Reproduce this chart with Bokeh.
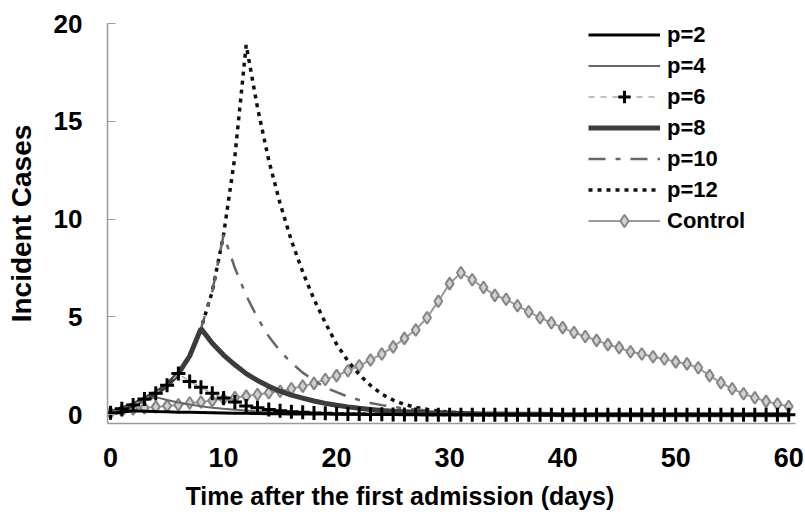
from bokeh.plotting import figure
from bokeh.models import Range1d, FixedTicker, Legend, LegendItem, Title
from bokeh.embed import file_html
from bokeh.resources import INLINE

# ---- data ----
days = list(range(61))
x_ticks = [0, 10, 20, 30, 40, 50, 60]
y_ticks = [0, 5, 10, 15, 20]
series_labels = ["p=2", "p=4", "p=6", "p=8", "p=10", "p=12", "Control"]

p2 = [0.05, 0.12, 0.2, 0.18, 0.16, 0.15, 0.13, 0.12, 0.11, 0.1,
      0.09, 0.08, 0.07, 0.06, 0.05, 0.05, 0.04, 0.04, 0.03, 0.03,
      0.02, 0.02, 0.02, 0.01, 0.01, 0.01, 0.0, 0.0, 0.0, 0.0,
      0.0, 0.0, 0.0, 0.0, 0.0, 0.0, 0.0, 0.0, 0.0, 0.0,
      0.0, 0.0, 0.0, 0.0, 0.0, 0.0, 0.0, 0.0, 0.0, 0.0,
      0.0, 0.0, 0.0, 0.0, 0.0, 0.0, 0.0, 0.0, 0.0, 0.0, 0.0]
p4 = [0.1, 0.3, 0.5, 0.7, 0.9, 0.75, 0.62, 0.52, 0.43, 0.36,
      0.3, 0.25, 0.21, 0.17, 0.14, 0.12, 0.1, 0.08, 0.07, 0.06,
      0.05, 0.04, 0.03, 0.03, 0.02, 0.02, 0.01, 0.01, 0.01, 0.0,
      0.0, 0.0, 0.0, 0.0, 0.0, 0.0, 0.0, 0.0, 0.0, 0.0,
      0.0, 0.0, 0.0, 0.0, 0.0, 0.0, 0.0, 0.0, 0.0, 0.0,
      0.0, 0.0, 0.0, 0.0, 0.0, 0.0, 0.0, 0.0, 0.0, 0.0, 0.0]
p6 = [0.1, 0.3, 0.5, 0.8, 1.1, 1.5, 2.1, 1.7, 1.4, 1.1,
      0.85, 0.65, 0.45, 0.35, 0.27, 0.2, 0.15, 0.12, 0.09, 0.07,
      0.05, 0.04, 0.03, 0.02, 0.02, 0.01, 0.01, 0.01, 0.0, 0.0,
      0.0, 0.0, 0.0, 0.0, 0.0, 0.0, 0.0, 0.0, 0.0, 0.0,
      0.0, 0.0, 0.0, 0.0, 0.0, 0.0, 0.0, 0.0, 0.0, 0.0,
      0.0, 0.0, 0.0, 0.0, 0.0, 0.0, 0.0, 0.0, 0.0, 0.0, 0.0]
p8 = [0.1, 0.3, 0.5, 0.8, 1.1, 1.5, 2.1, 3.0, 4.4, 3.65,
      3.05, 2.55, 2.1, 1.75, 1.45, 1.2, 1.0, 0.85, 0.7, 0.58,
      0.48, 0.4, 0.33, 0.27, 0.22, 0.18, 0.15, 0.12, 0.1, 0.08,
      0.07, 0.06, 0.05, 0.04, 0.03, 0.03, 0.02, 0.02, 0.02, 0.01,
      0.0, 0.0, 0.0, 0.0, 0.0, 0.0, 0.0, 0.0, 0.0, 0.0,
      0.0, 0.0, 0.0, 0.0, 0.0, 0.0, 0.0, 0.0, 0.0, 0.0, 0.0]
p10 = [0.1, 0.3, 0.5, 0.8, 1.1, 1.5, 2.1, 3.0, 4.4, 6.3,
       9.2, 7.5, 6.1, 4.95, 4.0, 3.25, 2.65, 2.15, 1.75, 1.4,
       1.15, 0.92, 0.75, 0.6, 0.49, 0.4, 0.32, 0.26, 0.21, 0.17,
       0.14, 0.11, 0.09, 0.07, 0.06, 0.05, 0.04, 0.03, 0.02, 0.02,
       0.01, 0.0, 0.0, 0.0, 0.0, 0.0, 0.0, 0.0, 0.0, 0.0,
       0.0, 0.0, 0.0, 0.0, 0.0, 0.0, 0.0, 0.0, 0.0, 0.0, 0.0]
p12 = [0.1, 0.3, 0.5, 0.8, 1.1, 1.5, 2.1, 3.0, 4.4, 6.3,
       9.2, 13.2, 18.9, 15.7, 13.0, 10.8, 8.9, 7.3, 5.9, 4.7,
       3.6, 2.75, 2.05, 1.5, 1.05, 0.75, 0.52, 0.38, 0.27, 0.19,
       0.13, 0.09, 0.06, 0.05, 0.04, 0.03, 0.02, 0.02, 0.01, 0.0,
       0.0, 0.0, 0.0, 0.0, 0.0, 0.0, 0.0, 0.0, 0.0, 0.0,
       0.0, 0.0, 0.0, 0.0, 0.0, 0.0, 0.0, 0.0, 0.0, 0.0, 0.0]
control = [0.1, 0.2, 0.3, 0.35, 0.4, 0.45, 0.5, 0.6, 0.65, 0.72,
           0.8, 0.88, 0.95, 1.03, 1.12, 1.2, 1.33, 1.46, 1.6, 1.8,
           2.0, 2.25, 2.5, 2.8, 3.1, 3.47, 3.9, 4.33, 4.96, 5.8,
           6.7, 7.26, 6.9, 6.5, 6.1, 5.9, 5.57, 5.26, 4.96, 4.7,
           4.45, 4.2, 4.0, 3.8, 3.58, 3.43, 3.22, 3.1, 2.96, 2.85,
           2.7, 2.6, 2.4, 2.0, 1.63, 1.33, 1.07, 0.87, 0.68, 0.55, 0.42]

FONT = "Liberation Sans"

p = figure(width=805, height=520, output_backend="svg", toolbar_location=None,
           x_range=Range1d(-0.27, 60.6), y_range=Range1d(-0.45, 20),
           min_border_left=107, min_border_right=10, min_border_top=23,
           min_border_bottom=97)
p.outline_line_color = None
p.grid.grid_line_color = None
p.background_fill_color = "white"
p.border_fill_color = "white"

# axes
p.xaxis.ticker = FixedTicker(ticks=x_ticks)
p.yaxis.ticker = FixedTicker(ticks=y_ticks)
for ax in (p.xaxis[0], p.yaxis[0]):
    ax.major_label_text_font = FONT
    ax.major_label_text_font_style = "bold"
    ax.major_label_text_color = "black"
    ax.minor_tick_line_color = None
    ax.axis_line_color = "#9a9a9a"
    ax.axis_line_width = 1.5
p.xaxis.major_label_text_font_size = "27px"
p.yaxis.major_label_text_font_size = "26px"
p.xaxis.major_tick_line_color = None
p.xaxis.major_tick_in = 0
p.xaxis.major_tick_out = 0
p.xaxis.major_label_standoff = 24
p.yaxis.major_tick_in = 8
p.yaxis.major_tick_out = 0
p.yaxis.major_tick_line_color = "#9a9a9a"
p.yaxis.major_label_standoff = 25
p.yaxis.axis_label = "Incident Cases"
p.yaxis.axis_label_text_font = FONT
p.yaxis.axis_label_text_font_style = "bold"
p.yaxis.axis_label_text_font_size = "28px"
p.yaxis.axis_label_text_color = "black"
p.yaxis.axis_label_standoff = 14

# series
r_ctrl_l = p.line(days, control, line_color="#9a9a9a", line_width=2)
r_ctrl_m = p.scatter(days, control, marker="diamond", size=12,
                     line_color="#858585", fill_color="#d0d0d0", line_width=2)
r12 = p.line(days, p12, line_color="#111111", line_width=3.5, line_dash="4 5")
r10 = p.line(days, p10, line_color="#666666", line_width=2.5, line_dash="17 10 5 10")
r8 = p.line(days, p8, line_color="#3c3c3c", line_width=5)
r4 = p.line(days, p4, line_color="#666666", line_width=2)
r2 = p.line(days, p2, line_color="#000000", line_width=3)
r6l = p.line(days, p6, line_color="#aaaaaa", line_width=1.5, line_dash="6 6")
r6m = p.scatter(days, p6, marker="cross", size=14, line_color="black", line_width=3)

legend = Legend(items=[
    LegendItem(label=series_labels[0], renderers=[r2]),
    LegendItem(label=series_labels[1], renderers=[r4]),
    LegendItem(label=series_labels[2], renderers=[r6l, r6m]),
    LegendItem(label=series_labels[3], renderers=[r8]),
    LegendItem(label=series_labels[4], renderers=[r10]),
    LegendItem(label=series_labels[5], renderers=[r12]),
    LegendItem(label=series_labels[6], renderers=[r_ctrl_l, r_ctrl_m]),
], location=(481, 187), padding=0, spacing=0, margin=0,
    border_line_color=None, background_fill_alpha=0,
    glyph_width=72, glyph_height=31, label_height=31, label_standoff=7,
    label_text_font=FONT, label_text_font_style="bold",
    label_text_font_size="22px", label_text_color="black")
p.add_layout(legend)

xtitle = Title(text="Time after the first admission (days)", align="left",
               offset=78, standoff=20, text_font=FONT, text_font_style="bold",
               text_font_size="25px", text_color="black")
p.add_layout(xtitle, "below")

open("out.html", "w").write(file_html(p, INLINE))
